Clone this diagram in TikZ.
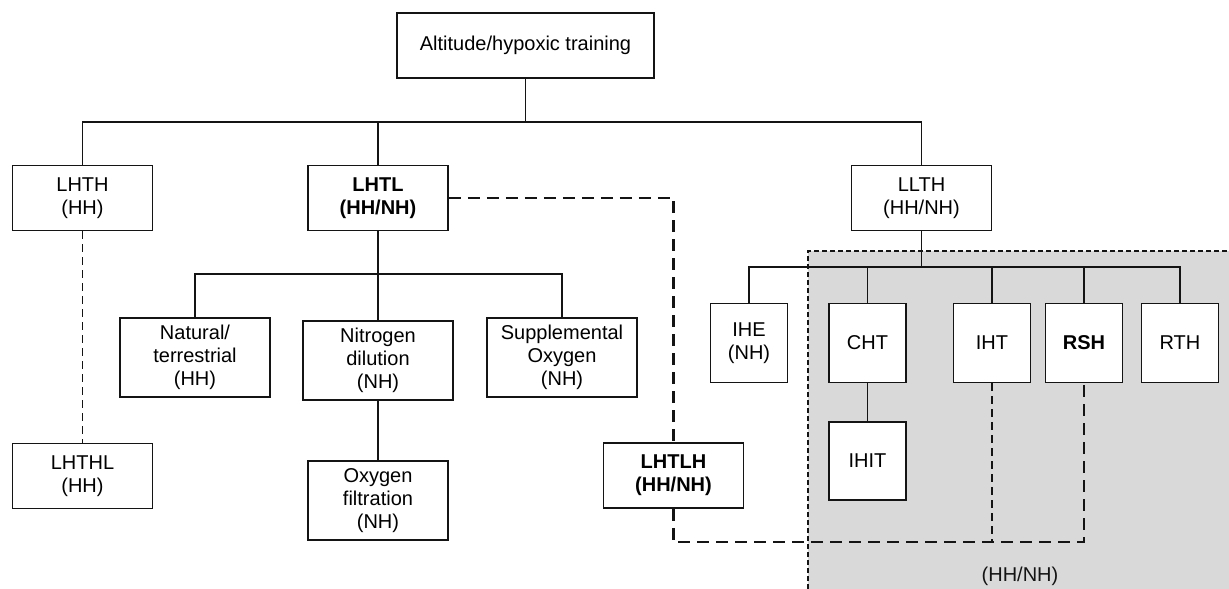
\documentclass[tikz,border=0pt]{standalone}
\usepackage{fontspec}
\setmainfont{Liberation Sans}
\usepackage{xcolor}
\usepackage{tikz}
\usetikzlibrary{calc,positioning}
\definecolor{lineColor}{RGB}{20, 20, 20}
\definecolor{zoneColor}{RGB}{217, 217, 217}

\tikzset{
    box/.style={draw=lineColor, line width=1.9pt, fill=white, align=center,
        inner sep=2pt, font=\fontsize{20}{23}\selectfont},
    widebox/.style={box, minimum width=140pt, minimum height=65pt},
    tallbox/.style={box, minimum width=150pt, minimum height=79pt},
    narrowbox/.style={box, minimum width=77pt, minimum height=79pt},
    link/.style={draw=lineColor, line width=1.9pt},
    thinlink/.style={draw=lineColor, line width=1.8pt, dash pattern=on 8pt off 5pt},
    boldlink/.style={draw=lineColor, line width=2.8pt, dash pattern=on 12pt off 7pt},
}

\begin{document}
\begin{tikzpicture}[x=1pt, y=-1pt]
            \useasboundingbox (0,0) rectangle (1229,589);

            % Shaded zone of the LLTH branch
            \fill[zoneColor] (808,251) rectangle (1229,589);
            \draw[lineColor, line width=1.4pt, dash pattern=on 5pt off 3pt]
                (808,589) -- (808,251) -- (1229,251);

            % Junction points
            \coordinate (j0) at (525.5,122);
            \coordinate (j1) at (378,274);
            \coordinate (j2) at (921.5,267);
            \coordinate (j3) at (673.5,542);

            % Top level
            \node[box, minimum width=257pt, minimum height=65pt] (top) at (525.5,45.5) {Altitude/hypoxic training};

            % Second level
            \node[widebox] (lhth) at (82.5,198) {LHTH\\(HH)};
            \node[widebox, font=\fontsize{20}{23}\selectfont\bfseries] (lhtl) at (378,198) {LHTL\\(HH/NH)};
            \node[widebox] (llth) at (921.5,198) {LLTH\\(HH/NH)};

            % LHTL branch
            \node[tallbox] (natural) at (195,357.5) {Natural/\\terrestrial\\(HH)};
            \node[tallbox] (nitrogen) at (378,360.5) {Nitrogen\\dilution\\(NH)};
            \node[tallbox] (supplemental) at (562,357.5) {Supplemental\\Oxygen\\(NH)};
            \node[tallbox, minimum width=140pt] (filtration) at (378,500.5) {Oxygen\\filtration\\(NH)};

            % Bottom row
            \node[widebox] (lhthl) at (82.5,476) {LHTHL\\(HH)};
            \node[widebox, font=\fontsize{20}{23}\selectfont\bfseries] (lhtlh) at (673.5,475.5) {LHTLH\\(HH/NH)};

            % LLTH branch
            \node[narrowbox] (ihe) at (749,343) {IHE\\(NH)};
            \node[narrowbox] (cht) at (867.5,343) {CHT};
            \node[narrowbox] (iht) at (992,343) {IHT};
            \node[narrowbox, font=\fontsize{20}{23}\selectfont\bfseries] (rsh) at (1084,343) {RSH};
            \node[narrowbox] (rth) at (1180,343) {RTH};
            \node[narrowbox, minimum height=78pt] (ihit) at (867.5,461) {IHIT};

            % Zone label
            \node[font=\fontsize{20}{23}\selectfont, text=lineColor] (zone) at (1020,576) {(HH/NH)};

            % Solid tree links
            \draw[link] (top.south) -- (j0);
            \draw[link] (lhth.north) |- (j0) -| (llth.north);
            \draw[link] (j0) -| (lhtl.north);
            \draw[link] (lhtl.south) -- (nitrogen.north);
            \draw[link] (natural.north) |- (j1) -| (supplemental.north);
            \draw[link] (nitrogen.south) -- (filtration.north);
            \draw[link] (llth.south) -- (j2);
            \draw[link] (ihe.north) |- (j2) -| (rth.north);
            \foreach \child in {cht, iht, rsh}
                \draw[link] (\child.north) -- (\child.north |- j2);
            \draw[link] (cht.south) -- (ihit.north);

            % Dashed links
            \draw[thinlink] (lhth.south) -- (lhthl.north);
            \draw[boldlink] (lhtl.east) -| (lhtlh.north);
            \draw[boldlink] (lhtlh.south) -- (j3) -| (rsh.south);
            \draw[thinlink] (iht.south) -- (iht.south |- j3);
        \end{tikzpicture}
\end{document}
